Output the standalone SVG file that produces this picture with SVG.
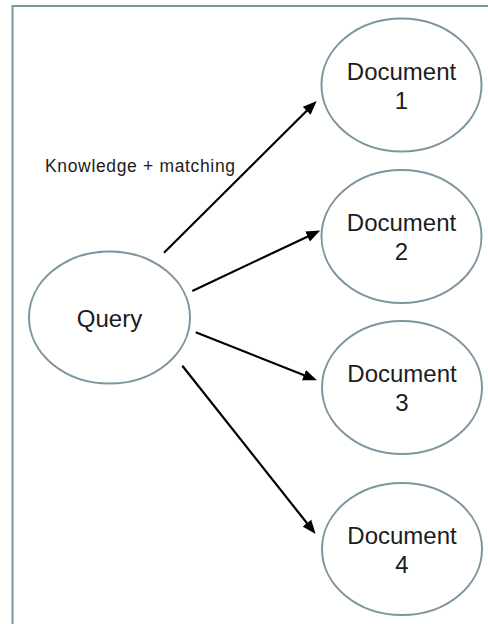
<svg xmlns="http://www.w3.org/2000/svg" width="488" height="624" viewBox="0 0 488 624">
  <style>
    .node { fill: #ffffff; stroke: #7d959f; stroke-width: 2; }
    .lbl { font-family: "Liberation Sans", Arial, sans-serif; font-size: 24px; fill: #1c1c1c; text-anchor: middle; }
    .edge { stroke: #000000; stroke-width: 2.2; fill: none; }
    .frame { stroke: #7d959f; stroke-width: 2; fill: none; }
    .elbl { font-family: "Liberation Sans", Arial, sans-serif; font-size: 17.5px; fill: #1c1c1c; }
  </style>
  <defs>
    <marker id="arrow" markerUnits="userSpaceOnUse" markerWidth="14" markerHeight="12" viewBox="0 0 14 12" refX="5" refY="6" orient="auto">
      <path d="M0,0.5 L14,6 L0,11.5 z" fill="#000000"/>
    </marker>
  </defs>
  <rect width="488" height="624" fill="#ffffff"/>
  <path class="frame" d="M12.5,624 L12.5,6 L488,6"/>
  <g id="connectors">
    <line class="edge" x1="164" y1="252.7" x2="310.3" y2="107.3" marker-end="url(#arrow)"/>
    <line class="edge" x1="192.3" y1="291" x2="312.1" y2="234.4" marker-end="url(#arrow)"/>
    <line class="edge" x1="195.7" y1="332.3" x2="308.6" y2="377" marker-end="url(#arrow)"/>
    <line class="edge" x1="182.3" y1="365.7" x2="310" y2="527" marker-end="url(#arrow)"/>
    <text class="elbl" x="45" y="172" textLength="190" lengthAdjust="spacing">Knowledge + matching</text>
  </g>
  <g id="query">
    <ellipse class="node" cx="109.5" cy="317.5" rx="80.5" ry="66"/>
    <text class="lbl" x="109.5" y="326.5">Query</text>
  </g>
  <g id="doc1">
    <ellipse class="node" cx="401.5" cy="85" rx="80" ry="66.5"/>
    <text class="lbl" x="401.5" y="80">Document</text>
    <text class="lbl" x="401.5" y="109">1</text>
  </g>
  <g id="doc2">
    <ellipse class="node" cx="401.5" cy="236.5" rx="80" ry="66.5"/>
    <text class="lbl" x="401.5" y="231">Document</text>
    <text class="lbl" x="401.5" y="260">2</text>
  </g>
  <g id="doc3">
    <ellipse class="node" cx="402" cy="387.5" rx="80" ry="66.5"/>
    <text class="lbl" x="402" y="382">Document</text>
    <text class="lbl" x="402" y="411">3</text>
  </g>
  <g id="doc4">
    <ellipse class="node" cx="402" cy="549" rx="80" ry="66"/>
    <text class="lbl" x="402" y="544">Document</text>
    <text class="lbl" x="402" y="573">4</text>
  </g>
</svg>
